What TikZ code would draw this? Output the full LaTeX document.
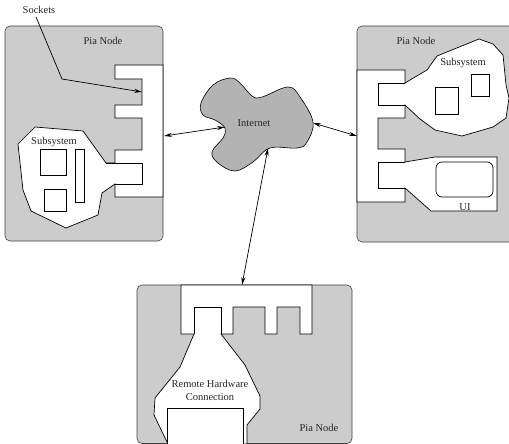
\documentclass[tikz,border=0pt]{standalone}
\usepackage{fontspec}
\setmainfont{Liberation Serif}
\usetikzlibrary{arrows.meta}
\definecolor{nodegray}{HTML}{CCCCCC}
\definecolor{cloudgray}{HTML}{B3B3B3}
\tikzset{
  pia/.style={draw=black!75,fill=nodegray,line width=0.6pt,rounded corners=5pt},
  blank/.style={draw=black,fill=white,line width=0.7pt,line join=miter},
  edge line/.style={draw=black,line width=0.7pt},
  label/.style={font=\fontsize{10.5}{13}\selectfont,text=black!85,inner sep=0pt,align=center},
  link/.style={draw=black,line width=0.7pt,{Stealth[length=8pt,width=4pt]}-{Stealth[length=8pt,width=4pt]}},
  pointer/.style={draw=black,line width=0.7pt,-{Stealth[length=8pt,width=4pt]}},
}
\begin{document}
\begin{tikzpicture}[x=1pt,y=-1pt]
\useasboundingbox (0,0) rectangle (509,444);
% Pia node boxes
\path[pia] (5,26) rectangle (163,241);
\path[pia] (357,26) rectangle (530,242);
\path[pia] (137,285) rectangle (352,443.5);
% Left node: one outline for sockets and subsystem, then the tab
\path[blank] (163,65) -- (115,65) -- (115,79) -- (142,79) -- (142,105) -- (115,105) -- (115,118) -- (142,118) -- (142,150) -- (115,150) -- (115,163) -- (106,163) -- (83,131) -- (35,127) -- (18,144) -- (23,190) -- (31,211) -- (66,228) -- (98,215) -- (102,193) -- (115,184) -- (115,197) -- (163,197) -- cycle;
\path[edge line] (106,163) -- (142,163) -- (142,184) -- (115,184);
\path[blank] (40,149) rectangle (66,175);
\path[blank] (75,149) rectangle (84,202);
\path[blank] (44,189) rectangle (66,211);
% Right node
\path[blank] (357,70) -- (405,70) -- (405,83) -- (427,70) -- (437,56) -- (479,39) -- (493,44) -- (503,55) -- (506,85) -- (509,98) -- (506,118) -- (493,127) -- (462,136) -- (435,130) -- (420,119) -- (405,105) -- (405,118) -- (378,118) -- (378,149) -- (405,149) -- (405,162) -- (435,157) -- (497,157) -- (497,211) -- (431,211) -- (405,188) -- (405,202) -- (357,202) -- cycle;
\path[edge line] (405,83) -- (378,83) -- (378,105) -- (405,105);
\path[edge line] (405,162) -- (378,162) -- (378,188) -- (405,188);
\path[blank] (435,87) rectangle (458,114);
\path[blank] (471,74) rectangle (489,96);
\path[blank,rounded corners=6pt] (436,162) rectangle (493,197);
% Bottom node
\path[blank] (181,285) -- (312,285) -- (312,334) -- (300,334) -- (300,307) -- (277,307) -- (277,334) -- (265,334) -- (265,307) -- (233,307) -- (233,334) -- (221,334) -- (245,365) -- (260,396) -- (260,409) -- (247,425) -- (247,444) -- (168,444) -- (154,415) -- (155,398) -- (180,367) -- (194,334) -- (181,334) -- cycle;
\path[edge line] (194,334) -- (194,307) -- (221,307) -- (221,334);
\path[blank] (167.5,408) rectangle (243,445);
% Internet cloud
\path[draw=black,fill=cloudgray,line width=0.6pt] plot[smooth cycle,tension=0.62] coordinates {(201,103) (213,85) (230,78) (240,83) (252,96) (262,97) (288,87) (300,97) (313,122) (307,142) (297,148) (270,148) (253,162) (235,171) (218,163) (212,152) (223,138) (225,128) (215,120) (203,115)};
% Named anchors of the connectors
\coordinate (leftport) at (164,136);
\coordinate (cloudleft) at (225,127);
\coordinate (cloudright) at (313,123);
\coordinate (rightport) at (357,136);
\coordinate (cloudbottom) at (268,148);
\coordinate (bottomport) at (242,285);
\node[label] (sockets) at (39,9.5) {Sockets};
\coordinate (bend) at (62,79);
\coordinate (socketend) at (142,92);
\draw[link] (leftport) -- (cloudleft);
\draw[link] (cloudright) -- (rightport);
\draw[link] (cloudbottom) -- (bottomport);
\draw[pointer] (36,17) -- (bend) -- (socketend);
% Labels
\node[label] (pia1) at (103,41) {Pia Node};
\node[label] (sub1) at (54,142) {Subsystem};
\node[label] (pia2) at (416,41) {Pia Node};
\node[label] (sub2) at (463,63) {Subsystem};
\node[label] (ui) at (465,207) {UI};
\node[label] (inet) at (254,123) {Internet};
\node[label] (rhc) at (210,390.5) {Remote Hardware\\Connection};
\node[label] (pia3) at (319,428) {Pia Node};
\end{tikzpicture}
\end{document}
